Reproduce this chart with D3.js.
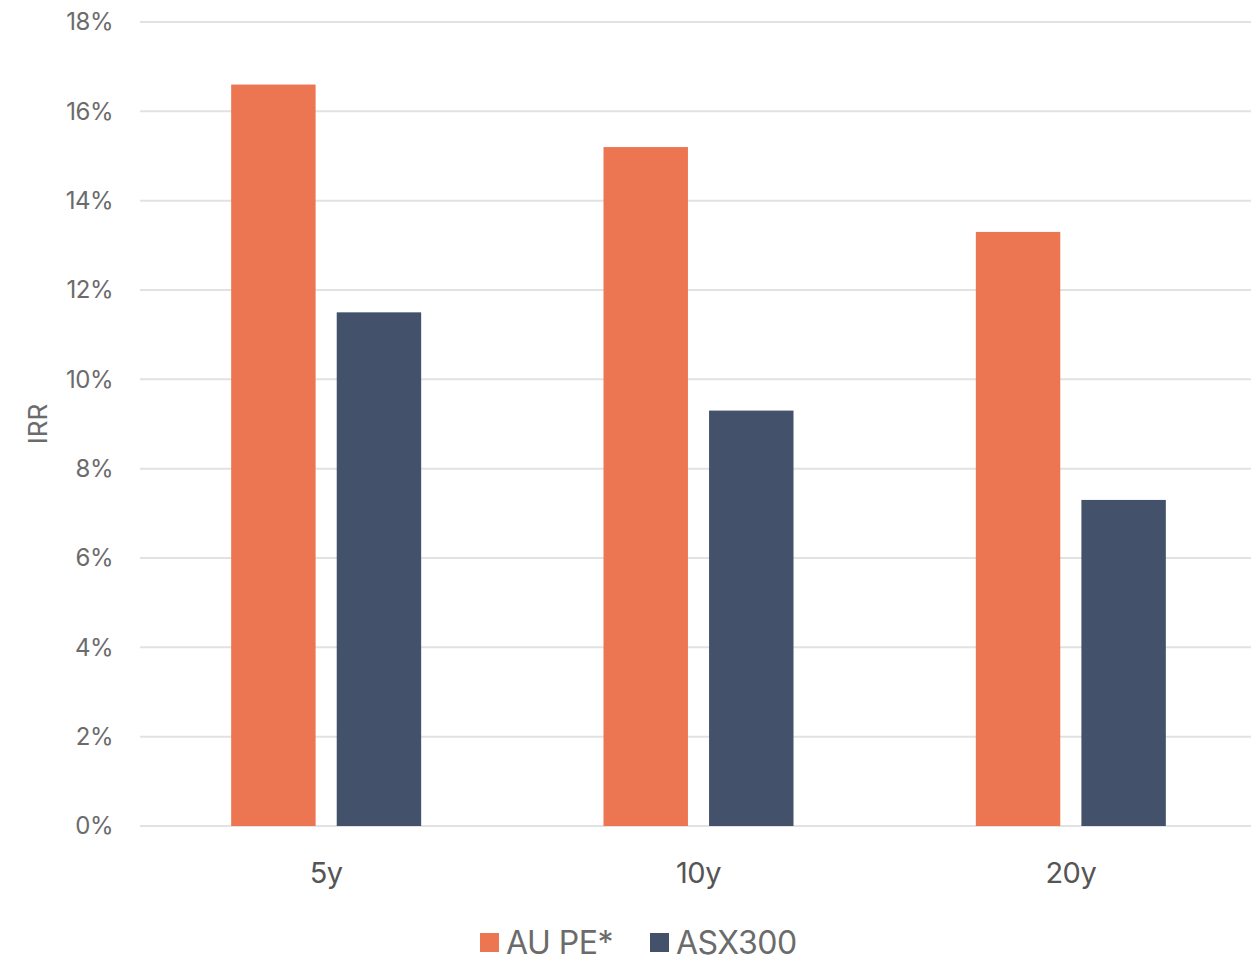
<!DOCTYPE html>
<html>
<head>
<meta charset="utf-8">
<script src="https://cdn.jsdelivr.net/npm/d3@7"></script>
<style>
  html, body { margin: 0; padding: 0; background: #ffffff; }
  svg { display: block; font-family: "Inter", "Liberation Sans", sans-serif; }
</style>
</head>
<body>
<svg id="chart" width="1251" height="962"></svg>
<script>
// Annualised IRR by holding period
const categories = ["5y", "10y", "20y"];
const seriesNames = ["AU PE*", "ASX300"];
const auPE = [16.6, 15.2, 13.3];
const asx300 = [11.5, 9.3, 7.3];
const yTicks = [0, 2, 4, 6, 8, 10, 12, 14, 16, 18];
const colors = ["#EC7652", "#43526A"];

const svg = d3.select("#chart");
const margin = { left: 140, right: -6, top: 22, bottom: 136 };
const W = 1251, H = 962;

const x = d3.scaleBand().domain(categories)
  .range([margin.left, W - margin.right]).paddingInner(0).paddingOuter(0);
const y = d3.scaleLinear().domain([0, 18]).range([H - margin.bottom, margin.top]);

// gridlines
svg.append("g").selectAll("line").data(yTicks).join("line")
  .attr("x1", margin.left).attr("x2", W)
  .attr("y1", d => y(d)).attr("y2", d => y(d))
  .attr("stroke", "#e2e2e2").attr("stroke-width", 2);

// y tick labels
svg.append("g").selectAll("text").data(yTicks).join("text")
  .attr("x", 113).attr("y", d => y(d)).attr("dy", "0.35em")
  .attr("text-anchor", "end").attr("font-size", 24).attr("fill", "#6b6b6b")
  .attr("letter-spacing", -0.5)
  .text(d => d + "%");

// y axis title
svg.append("text")
  .attr("transform", `translate(47,${(y(0) + y(18)) / 2}) rotate(-90)`)
  .attr("text-anchor", "middle").attr("font-size", 26).attr("fill", "#6b6b6b")
  .text("IRR");

// grouped bars
const groupW = 190;
const inner = d3.scaleBand().domain(seriesNames).range([0, groupW]).paddingInner(0.2);
const series = [auPE, asx300];
const groups = svg.append("g").selectAll("g").data(categories).join("g")
  .attr("transform", (c) => `translate(${x(c) + x.bandwidth() / 2 - groupW / 2},0)`);
groups.selectAll("rect")
  .data((c, i) => seriesNames.map((s, k) => ({ s, v: series[k][i], k })))
  .join("rect")
  .attr("x", d => inner(d.s)).attr("width", inner.bandwidth())
  .attr("y", d => y(d.v)).attr("height", d => y(0) - y(d.v))
  .attr("fill", d => colors[d.k]);

// category labels
svg.append("g").selectAll("text").data(categories).join("text")
  .attr("x", c => x(c) + x.bandwidth() / 2).attr("y", 873).attr("dy", "0.35em")
  .attr("text-anchor", "middle").attr("font-size", 29).attr("fill", "#555555")
  .attr("letter-spacing", -0.5)
  .text(c => c);

// legend
const legend = svg.append("g");
const legendItems = [{ name: seriesNames[0], x: 480 }, { name: seriesNames[1], x: 650 }];
legendItems.forEach((it, k) => {
  legend.append("rect").attr("x", it.x).attr("y", 933).attr("width", 19).attr("height", 19)
    .attr("fill", colors[k]);
  legend.append("text").attr("x", it.x + 26).attr("y", 943).attr("dy", "0.35em")
    .attr("font-size", 32).attr("fill", "#6b6b6b").attr("letter-spacing", -0.5).text(it.name);
});
</script>
</body>
</html>
